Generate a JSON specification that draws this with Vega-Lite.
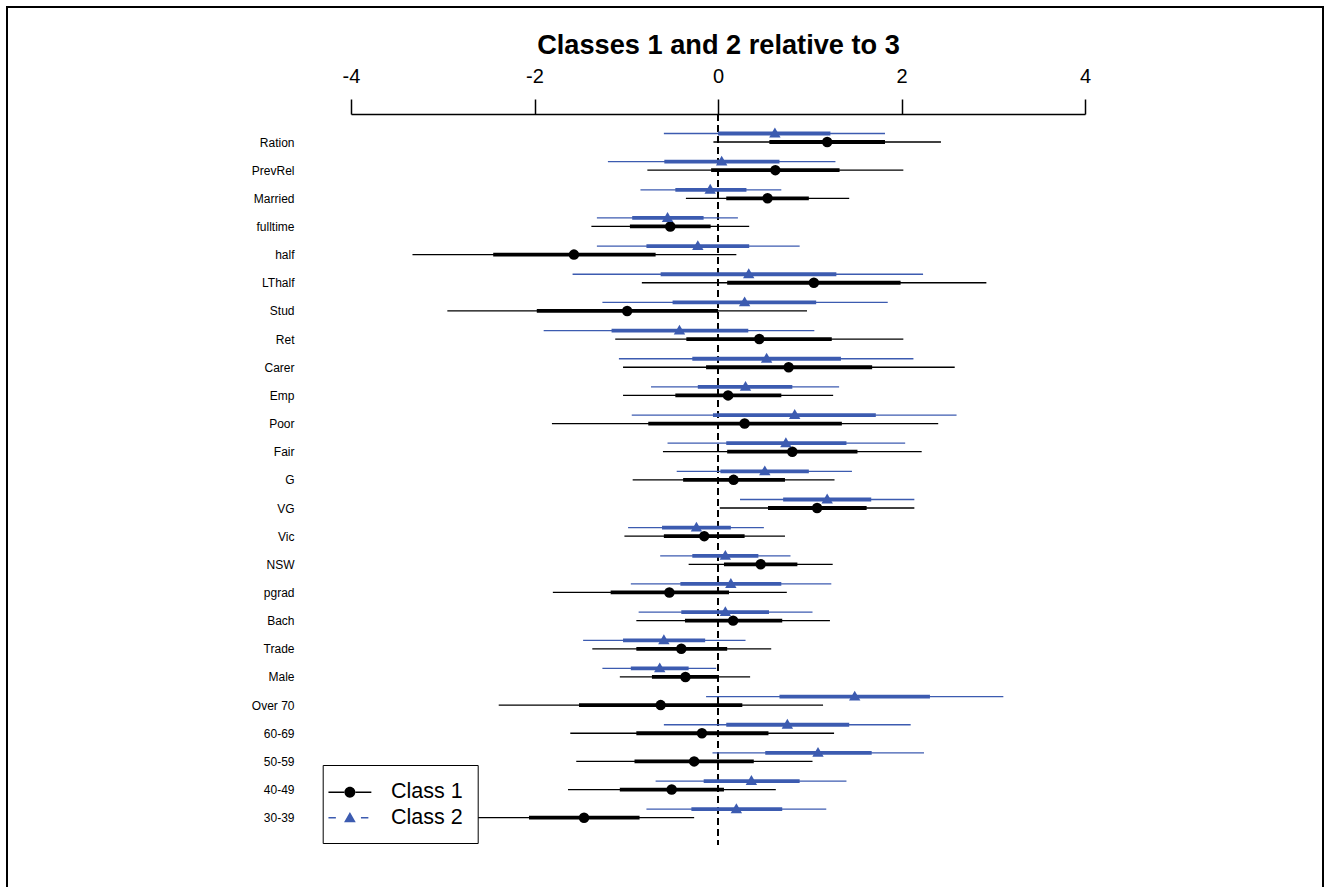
{
  "$schema": "https://vega.github.io/schema/vega-lite/v6.json",
  "autosize": {"type": "none"},
  "padding": {"left": 7, "top": 7, "right": 7, "bottom": 0},
  "width": 1316,
  "height": 880,
  "background": "white",
  "title": {
    "text": "Classes 1 and 2 relative to 3",
    "fontSize": 27.2,
    "fontWeight": "bold",
    "font": "Liberation Sans",
    "color": "black",
    "anchor": "middle",
    "frame": "group",
    "baseline": "alphabetic",
    "offset": 0,
    "dx": 53.5,
    "dy": 74
  },
  "data": {
    "values": [
      {"var": "Ration", "cls": "Class 1", "est": 1.19, "lo1": 0.56, "hi1": 1.82, "lo2": -0.05, "hi2": 2.43},
      {"var": "Ration", "cls": "Class 2", "est": 0.62, "lo1": 0.0, "hi1": 1.225, "lo2": -0.59, "hi2": 1.82},
      {"var": "PrevRel", "cls": "Class 1", "est": 0.625, "lo1": -0.075, "hi1": 1.325, "lo2": -0.77, "hi2": 2.02},
      {"var": "PrevRel", "cls": "Class 2", "est": 0.04, "lo1": -0.585, "hi1": 0.67, "lo2": -1.2, "hi2": 1.28},
      {"var": "Married", "cls": "Class 1", "est": 0.54, "lo1": 0.09, "hi1": 0.99, "lo2": -0.35, "hi2": 1.43},
      {"var": "Married", "cls": "Class 2", "est": -0.085, "lo1": -0.465, "hi1": 0.31, "lo2": -0.845, "hi2": 0.69},
      {"var": "fulltime", "cls": "Class 1", "est": -0.52, "lo1": -0.96, "hi1": -0.08, "lo2": -1.38, "hi2": 0.34},
      {"var": "fulltime", "cls": "Class 2", "est": -0.55, "lo1": -0.935, "hi1": -0.157, "lo2": -1.32, "hi2": 0.217},
      {"var": "half", "cls": "Class 1", "est": -1.57, "lo1": -2.45, "hi1": -0.68, "lo2": -3.33, "hi2": 0.2},
      {"var": "half", "cls": "Class 2", "est": -0.22, "lo1": -0.78, "hi1": 0.34, "lo2": -1.32, "hi2": 0.89},
      {"var": "LThalf", "cls": "Class 1", "est": 1.045, "lo1": 0.1, "hi1": 1.99, "lo2": -0.83, "hi2": 2.925},
      {"var": "LThalf", "cls": "Class 2", "est": 0.335, "lo1": -0.625, "hi1": 1.29, "lo2": -1.585, "hi2": 2.235},
      {"var": "Stud", "cls": "Class 1", "est": -0.99, "lo1": -1.975, "hi1": 0.0, "lo2": -2.95, "hi2": 0.97},
      {"var": "Stud", "cls": "Class 2", "est": 0.29, "lo1": -0.495, "hi1": 1.07, "lo2": -1.26, "hi2": 1.85},
      {"var": "Ret", "cls": "Class 1", "est": 0.45, "lo1": -0.345, "hi1": 1.24, "lo2": -1.12, "hi2": 2.02},
      {"var": "Ret", "cls": "Class 2", "est": -0.42, "lo1": -1.16, "hi1": 0.33, "lo2": -1.9, "hi2": 1.05},
      {"var": "Carer", "cls": "Class 1", "est": 0.77, "lo1": -0.13, "hi1": 1.68, "lo2": -1.035, "hi2": 2.58},
      {"var": "Carer", "cls": "Class 2", "est": 0.53, "lo1": -0.28, "hi1": 1.34, "lo2": -1.08, "hi2": 2.13},
      {"var": "Emp", "cls": "Class 1", "est": 0.11, "lo1": -0.465, "hi1": 0.69, "lo2": -1.035, "hi2": 1.255},
      {"var": "Emp", "cls": "Class 2", "est": 0.3, "lo1": -0.22, "hi1": 0.81, "lo2": -0.73, "hi2": 1.32},
      {"var": "Poor", "cls": "Class 1", "est": 0.29, "lo1": -0.76, "hi1": 1.35, "lo2": -1.81, "hi2": 2.4},
      {"var": "Poor", "cls": "Class 2", "est": 0.836, "lo1": -0.055, "hi1": 1.72, "lo2": -0.94, "hi2": 2.6},
      {"var": "Fair", "cls": "Class 1", "est": 0.81, "lo1": 0.1, "hi1": 1.52, "lo2": -0.6, "hi2": 2.22},
      {"var": "Fair", "cls": "Class 2", "est": 0.74, "lo1": 0.09, "hi1": 1.4, "lo2": -0.55, "hi2": 2.04},
      {"var": "G", "cls": "Class 1", "est": 0.17, "lo1": -0.38, "hi1": 0.73, "lo2": -0.93, "hi2": 1.27},
      {"var": "G", "cls": "Class 2", "est": 0.51, "lo1": 0.026, "hi1": 0.99, "lo2": -0.45, "hi2": 1.46},
      {"var": "VG", "cls": "Class 1", "est": 1.08, "lo1": 0.545, "hi1": 1.62, "lo2": 0.02, "hi2": 2.14},
      {"var": "VG", "cls": "Class 2", "est": 1.19, "lo1": 0.71, "hi1": 1.67, "lo2": 0.24, "hi2": 2.14},
      {"var": "Vic", "cls": "Class 1", "est": -0.15, "lo1": -0.59, "hi1": 0.29, "lo2": -1.02, "hi2": 0.73},
      {"var": "Vic", "cls": "Class 2", "est": -0.235, "lo1": -0.61, "hi1": 0.14, "lo2": -0.98, "hi2": 0.5},
      {"var": "NSW", "cls": "Class 1", "est": 0.465, "lo1": 0.065, "hi1": 0.865, "lo2": -0.32, "hi2": 1.25},
      {"var": "NSW", "cls": "Class 2", "est": 0.08, "lo1": -0.28, "hi1": 0.44, "lo2": -0.63, "hi2": 0.79},
      {"var": "pgrad", "cls": "Class 1", "est": -0.53, "lo1": -1.17, "hi1": 0.12, "lo2": -1.8, "hi2": 0.75},
      {"var": "pgrad", "cls": "Class 2", "est": 0.14, "lo1": -0.41, "hi1": 0.69, "lo2": -0.95, "hi2": 1.235},
      {"var": "Bach", "cls": "Class 1", "est": 0.165, "lo1": -0.36, "hi1": 0.7, "lo2": -0.89, "hi2": 1.22},
      {"var": "Bach", "cls": "Class 2", "est": 0.08, "lo1": -0.4, "hi1": 0.556, "lo2": -0.865, "hi2": 1.03},
      {"var": "Trade", "cls": "Class 1", "est": -0.4, "lo1": -0.89, "hi1": 0.1, "lo2": -1.37, "hi2": 0.58},
      {"var": "Trade", "cls": "Class 2", "est": -0.59, "lo1": -1.035, "hi1": -0.14, "lo2": -1.47, "hi2": 0.3},
      {"var": "Male", "cls": "Class 1", "est": -0.355, "lo1": -0.72, "hi1": 0.0, "lo2": -1.07, "hi2": 0.35},
      {"var": "Male", "cls": "Class 2", "est": -0.635, "lo1": -0.95, "hi1": -0.32, "lo2": -1.26, "hi2": -0.02},
      {"var": "Over 70", "cls": "Class 1", "est": -0.625, "lo1": -1.515, "hi1": 0.265, "lo2": -2.39, "hi2": 1.145},
      {"var": "Over 70", "cls": "Class 2", "est": 1.49, "lo1": 0.67, "hi1": 2.31, "lo2": -0.13, "hi2": 3.11},
      {"var": "60-69", "cls": "Class 1", "est": -0.175, "lo1": -0.89, "hi1": 0.55, "lo2": -1.61, "hi2": 1.265},
      {"var": "60-69", "cls": "Class 2", "est": 0.756, "lo1": 0.09, "hi1": 1.43, "lo2": -0.59, "hi2": 2.1},
      {"var": "50-59", "cls": "Class 1", "est": -0.26, "lo1": -0.91, "hi1": 0.39, "lo2": -1.545, "hi2": 1.03},
      {"var": "50-59", "cls": "Class 2", "est": 1.09, "lo1": 0.515, "hi1": 1.675, "lo2": -0.06, "hi2": 2.245},
      {"var": "40-49", "cls": "Class 1", "est": -0.505, "lo1": -1.07, "hi1": 0.065, "lo2": -1.635, "hi2": 0.63},
      {"var": "40-49", "cls": "Class 2", "est": 0.364, "lo1": -0.156, "hi1": 0.89, "lo2": -0.68, "hi2": 1.4},
      {"var": "30-39", "cls": "Class 1", "est": -1.46, "lo1": -2.06, "hi1": -0.855, "lo2": -2.66, "hi2": -0.26},
      {"var": "30-39", "cls": "Class 2", "est": 0.2, "lo1": -0.29, "hi1": 0.7, "lo2": -0.78, "hi2": 1.18}
    ]
  },
  "layer": [
    {
      "transform": [{"filter": "datum.cls == 'Class 1'"}],
      "mark": {"type": "rule", "color": "black", "strokeWidth": 1.3},
      "encoding": {
        "x": {
          "field": "lo2", "type": "quantitative", "title": null,
          "scale": {"domain": [-4, 4], "range": [344, 1078], "nice": false, "zero": false},
          "axis": {"orient": "top", "offset": -107, "values": [-4, -2, 0, 2, 4], "title": null, "grid": false,
                   "labelExpr": "'' + datum.value",
                   "domainColor": "black", "domainWidth": 1.5, "tickColor": "black", "tickWidth": 1.5, "tickSize": 15,
                   "labelFontSize": 20, "labelFont": "Liberation Sans", "labelColor": "black", "labelPadding": 17,
                   "labelBaseline": "alphabetic", "labelFlush": false, "labelOverlap": false}
        },
        "x2": {"field": "hi2"},
        "y": {
          "field": "var", "type": "nominal", "sort": null, "title": null,
          "scale": {"type": "point", "padding": 0, "range": [135, 810.7],
                    "domain": ["Ration", "PrevRel", "Married", "fulltime", "half", "LThalf", "Stud", "Ret", "Carer", "Emp", "Poor", "Fair", "G", "VG", "Vic", "NSW", "pgrad", "Bach", "Trade", "Male", "Over 70", "60-69", "50-59", "40-49", "30-39"]},
          "axis": {"orient": "left", "offset": -287, "title": null, "domain": false, "ticks": false, "grid": false,
                   "labelPadding": 0, "labelFontSize": 12, "labelFont": "Liberation Sans", "labelColor": "black", "labelOverlap": false}
        }
      }
    },
    {
      "mark": {"type": "rule", "color": "black", "strokeWidth": 1.3, "strokeDash": [7, 4], "yOffset": -28, "y2Offset": 27.3},
      "encoding": {
        "x": {"datum": 0, "type": "quantitative", "title": null},
        "y": {"datum": "Ration", "type": "nominal", "title": null},
        "y2": {"datum": "30-39"}
      }
    },
    {
      "transform": [{"filter": "datum.cls == 'Class 1'"}],
      "mark": {"type": "rule", "color": "black", "strokeWidth": 3.8},
      "encoding": {
        "x": {"field": "lo1", "type": "quantitative", "title": null},
        "x2": {"field": "hi1"},
        "y": {"field": "var", "type": "nominal", "title": null}
      }
    },
    {
      "transform": [{"filter": "datum.cls == 'Class 1'"}],
      "mark": {"type": "point", "shape": "circle", "filled": true, "color": "black", "opacity": 1, "size": 110},
      "encoding": {
        "x": {"field": "est", "type": "quantitative", "title": null},
        "y": {"field": "var", "type": "nominal", "title": null}
      }
    },
    {
      "transform": [{"filter": "datum.cls == 'Class 2'"}],
      "mark": {"type": "rule", "color": "#3c5bb0", "strokeWidth": 1.3, "yOffset": -8.5},
      "encoding": {
        "x": {"field": "lo2", "type": "quantitative", "title": null},
        "x2": {"field": "hi2"},
        "y": {"field": "var", "type": "nominal", "title": null}
      }
    },
    {
      "transform": [{"filter": "datum.cls == 'Class 2'"}],
      "mark": {"type": "rule", "color": "#3c5bb0", "strokeWidth": 3.8, "yOffset": -8.5},
      "encoding": {
        "x": {"field": "lo1", "type": "quantitative", "title": null},
        "x2": {"field": "hi1"},
        "y": {"field": "var", "type": "nominal", "title": null}
      }
    },
    {
      "transform": [{"filter": "datum.cls == 'Class 2'"}],
      "mark": {"type": "point", "shape": "triangle-up", "filled": true, "color": "#3c5bb0", "opacity": 1, "size": 130, "yOffset": -9.5},
      "encoding": {
        "x": {"field": "est", "type": "quantitative", "title": null},
        "y": {"field": "var", "type": "nominal", "title": null}
      }
    },
    {
      "mark": {"type": "point", "filled": true, "opacity": 0},
      "encoding": {
        "x": {"field": "est", "type": "quantitative", "title": null},
        "y": {"field": "var", "type": "nominal", "title": null},
        "color": {
          "field": "cls", "type": "nominal",
          "scale": {"domain": ["Class 1", "Class 2"], "range": ["black", "#3c5bb0"]},
          "legend": {"orient": "none", "legendX": 315.7, "legendY": 758, "title": null,
                     "symbolSize": 676, "symbolStrokeWidth": 0, "symbolOpacity": 1,
                     "labelFontSize": 21.5, "labelFont": "Liberation Sans", "labelColor": "black",
                     "labelOffset": 28, "symbolOffset": 0, "padding": 14.2, "rowPadding": 1.6,
                     "strokeColor": "black", "fillColor": "white", "cornerRadius": 0, "labelLimit": 300, "labelBaseline": "middle"}
        },
        "shape": {
          "field": "cls", "type": "nominal",
          "scale": {"domain": ["Class 1", "Class 2"],
                    "range": ["M-1.65,-0.058H-0.4V0.058H-1.65Z M0.4,-0.058H1.65V0.058H0.4Z M-0.42,0A0.42,0.42 0 1,0 0.42,0A0.42,0.42 0 1,0 -0.42,0Z",
                              "M-1.65,-0.058H-1.08V0.058H-1.65Z M0.85,-0.058H1.42V0.058H0.85Z M0,-0.45L0.45,0.35L-0.45,0.35Z"]},
          "legend": {"orient": "none", "legendX": 315.7, "legendY": 758, "title": null,
                     "symbolSize": 676, "symbolStrokeWidth": 0, "symbolOpacity": 1,
                     "labelFontSize": 21.5, "labelFont": "Liberation Sans", "labelColor": "black",
                     "labelOffset": 28, "symbolOffset": 0, "padding": 14.2, "rowPadding": 1.6,
                     "strokeColor": "black", "fillColor": "white", "cornerRadius": 0, "labelLimit": 300, "labelBaseline": "middle"}
        }
      }
    }
  ],
  "config": {
    "view": {"stroke": "black", "strokeWidth": 2, "strokeDash": [2196, 1316, 900]},
    "font": "Liberation Sans"
  }
}
